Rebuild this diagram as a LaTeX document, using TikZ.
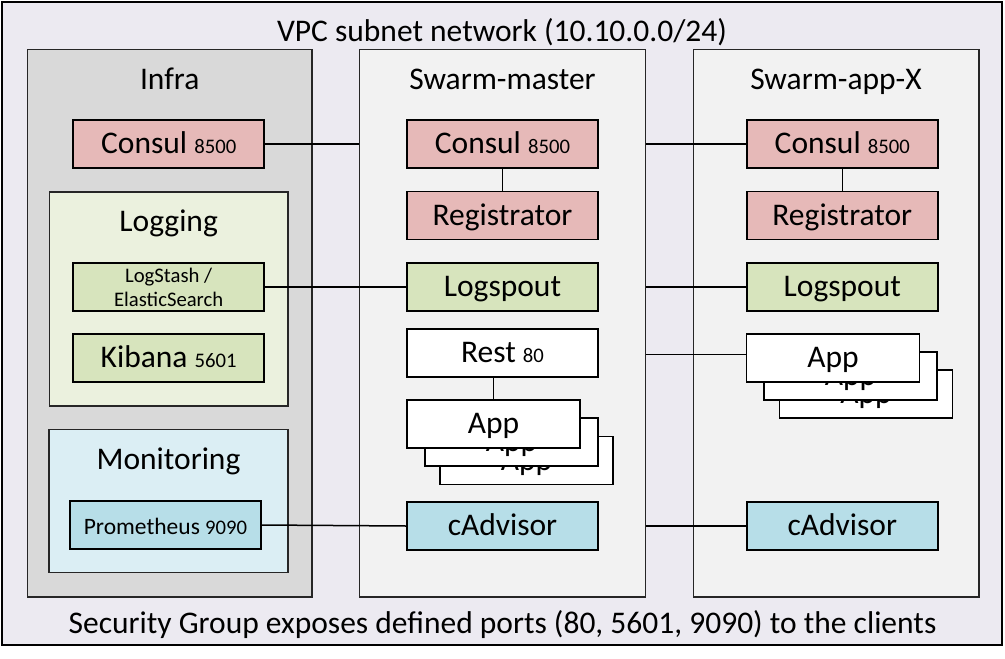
\documentclass[tikz,border=0pt]{standalone}
\usepackage{fontspec}
\setmainfont{Carlito}

\definecolor{vpc}{HTML}{ECEAF1}
\definecolor{infra}{HTML}{D9D9D9}
\definecolor{nodo}{HTML}{F2F2F2}
\definecolor{logsfondo}{HTML}{EBF1DE}
\definecolor{logsbox}{HTML}{D7E4BD}
\definecolor{consul}{HTML}{E6B9B8}
\definecolor{monfondo}{HTML}{DBEEF4}
\definecolor{monbox}{HTML}{B7DEE8}

\newcommand{\porta}[1]{{\fontsize{20.7}{24}\selectfont #1}}

\begin{document}
\begin{tikzpicture}[x=1pt,y=-1pt,
    contenitore/.style={draw=black!85, line width=1.5pt, inner sep=0pt},
    scatola/.style={draw, line width=1.8pt, minimum width=191pt, minimum height=48pt,
        inner sep=0pt, text height=19pt, text depth=0pt, font=\fontsize{31.5}{38}\selectfont},
    app/.style={scatola, fill=white, minimum width=173pt},
    titolo/.style={anchor=base, font=\fontsize{31.5}{38}\selectfont},
    linea/.style={line width=1.5pt}]
    \useasboundingbox (0,0) rectangle (1005,659);

    % Riquadri esterni
    \node[contenitore, draw=black, line width=1.8pt, fill=vpc, minimum width=1000pt, minimum height=643pt] (vpc) at (502,323.5) {};
    \node[contenitore, fill=infra, minimum width=284.7pt, minimum height=547.7pt] (infra) at (169.7,323.2) {};
    \node[contenitore, fill=logsfondo, minimum width=238.7pt, minimum height=214.3pt] (logging) at (168.7,298.9) {};
    \node[contenitore, fill=monfondo, minimum width=239pt, minimum height=143.2pt] (monitoring) at (168.5,501.1) {};
    \node[contenitore, fill=nodo, minimum width=286.4pt, minimum height=547.7pt] (master) at (502.5,323.2) {};
    \node[contenitore, fill=nodo, minimum width=285.7pt, minimum height=547.7pt] (appx) at (836.2,323.2) {};

    % Titoli
    \node[titolo] (tvpc) at (502,41.7) {VPC subnet network (10.10.0.0/24)};
    \node[titolo] (tinfra) at (169.7,89.3) {Infra};
    \node[titolo] (tmaster) at (502.5,89.3) {Swarm-master};
    \node[titolo] (tappx) at (836,89.3) {Swarm-app-X};
    \node[titolo] (tlogging) at (168.7,231.7) {Logging};
    \node[titolo] (tmonitoring) at (168.5,469.3) {Monitoring};
    \node[titolo] (tsg) at (502.5,633.3) {Security Group exposes defined ports (80, 5601, 9090) to the clients};

    % Infra
    \node[scatola, fill=consul] (ic) at (168.7,144) {Consul \porta{8500}};
    \node[scatola, fill=logsbox, text height=, text depth=, align=center,
        font=\fontsize{20.7}{24}\selectfont] (ls) at (168.7,287) {LogStash /\\ElasticSearch};
    \node[scatola, fill=logsbox] (kib) at (168.7,358.3) {Kibana \porta{5601}};
    \node[scatola, fill=monbox, text height=18pt, font=\fontsize{23.5}{28}\selectfont] (prom) at (165.5,525) {Prometheus \porta{9090}};

    % Swarm-master
    \node[scatola, fill=consul] (mc) at (502.5,144) {Consul \porta{8500}};
    \node[scatola, fill=consul] (mr) at (502.5,215.5) {Registrator};
    \node[scatola, fill=logsbox] (ml) at (502.5,287) {Logspout};
    \node[scatola, fill=white] (mrest) at (502.5,353) {Rest \porta{80}};
    \foreach \i/\dx/\dy in {3/33/36.5, 2/18/18, 1/0/0}
        \node[app] (mapp\i) at (493.5+\dx,424+\dy) {App};
    \node[scatola, fill=monbox] (mcad) at (502.5,526) {cAdvisor};

    % Swarm-app-X
    \node[scatola, fill=consul] (ac) at (842.3,144) {Consul \porta{8500}};
    \node[scatola, fill=consul] (ar) at (842.3,215.5) {Registrator};
    \node[scatola, fill=logsbox] (al) at (842.3,287) {Logspout};
    \foreach \i/\dx/\dy in {3/33/36, 2/17.5/18, 1/0/0}
        \node[app] (aapp\i) at (833+\dx,358+\dy) {App};
    \node[scatola, fill=monbox] (acad) at (842.3,526) {cAdvisor};
    \coordinate (aappin) at ([yshift=3.5pt]aapp1.west);

    % Collegamenti
    \draw[linea] (ic.east) -- (ic.east -| master.west);
    \draw[linea] (master.east |- ac.west) -- (ac.west);
    \draw[linea] (mc.south) -- (mr.north);
    \draw[linea] (ac.south) -- (ar.north);
    \draw[linea] (ls.east) -- (ml.west);
    \draw[linea] (master.east |- al.west) -- (al.west);
    \draw[linea] (mrest.south -| mapp1.north) -- (mapp1.north);
    \draw[linea] (master.east |- aappin) -- (aappin);
    \draw[linea] (prom.east) -- (mcad.west);
    \draw[linea] (master.east |- acad.west) -- (acad.west);
\end{tikzpicture}
\end{document}
